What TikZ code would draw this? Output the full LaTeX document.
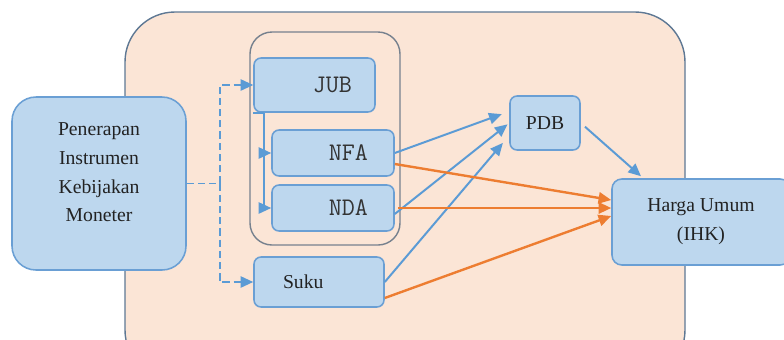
\documentclass[tikz,border=0pt]{standalone}
\usepackage{fontspec}
\setmainfont{Liberation Serif}
\usetikzlibrary{positioning,arrows.meta}
\definecolor{peach}{HTML}{FBE5D6}
\definecolor{peachline}{HTML}{5E7894}
\definecolor{grpline}{HTML}{76818E}
\definecolor{boxfill}{HTML}{BDD7EE}
\definecolor{boxline}{HTML}{6A9FD4}
\definecolor{bluearr}{HTML}{5B9BD5}
\definecolor{orangearr}{HTML}{ED7D31}
\definecolor{txt}{HTML}{222222}
\definecolor{monotxt}{HTML}{333333}

\begin{document}
\begin{tikzpicture}[font=\fontsize{14}{20.5}\selectfont,
    box/.style={draw=boxline,fill=boxfill,line width=1.1pt,rounded corners=5pt,inner sep=0pt,text=txt},
    monobox/.style={box,font=\ttfamily\fontsize{18}{20}\selectfont,text=monotxt,align=right},
    blueline/.style={draw=bluearr,line width=1.4pt},
    bluearrow/.style={blueline,-{Triangle[length=9pt,width=8pt]}},
    orangearrow/.style={draw=orangearr,line width=1.7pt,-{Triangle[length=9pt,width=8pt]}},
    dashline/.style={draw=bluearr,line width=1.4pt,dash pattern=on 5pt off 3pt},
    dasharrow/.style={dashline,-{Triangle[length=9pt,width=8pt]}}]
    \useasboundingbox (0,0) rectangle (19.6,-8.475);
    \clip (0,0) rectangle (19.6,-8.475);
    \draw[draw=peachline,fill=peach,line width=1pt,rounded corners=1.25cm]
        (3.125,-0.3) rectangle (17.125,-9.5);
    \node[draw=grpline,line width=1pt,rounded corners=0.55cm,
        minimum width=3.75cm,minimum height=5.325cm] (grp) at (8.125,-3.4625) {};
    \node[box,rounded corners=0.6cm,minimum width=4.35cm,minimum height=4.325cm,
        label={[align=center,yshift=0.28cm,text=txt]center:Penerapan\\Instrumen\\Kebijakan\\Moneter}]
        (pen) at (2.475,-4.5875) {};
    \node[monobox,minimum width=3.025cm,minimum height=1.35cm,text width=1.875cm] (jub) at (7.8625,-2.125) {JUB};
    \node[monobox,minimum width=3.05cm,minimum height=1.15cm,text width=1.75cm] (nfa) at (8.325,-3.825) {NFA};
    \node[monobox,minimum width=3.05cm,minimum height=1.15cm,text width=1.75cm] (nda) at (8.325,-5.2) {NDA};
    \node[box,minimum width=3.25cm,minimum height=1.25cm,text width=1.8cm,align=left] (suku) at (7.975,-7.05) {Suku};
    \node[box,minimum width=1.75cm,minimum height=1.35cm] (pdb) at (13.625,-3.075) {PDB};
    \node[box,rounded corners=7pt,minimum width=4.45cm,minimum height=2.15cm,align=center]
        (ihk) at (17.525,-5.55) {Harga Umum\\(IHK)};

    \coordinate[right=0.825cm of pen.east] (split);
    \draw[dashline] (pen.east) -- (split);
    \draw[dasharrow] (split) |- (jub.west);
    \draw[dasharrow] (split) |- (suku.west);

    \coordinate[right=0.275cm of jub.south west] (jubdrop);
    \draw[blueline] (jub.south west) -- (jubdrop);
    \draw[bluearrow] (jubdrop) |- (nfa.west);
    \draw[bluearrow] (jubdrop) |- (nda.west);

    \draw[bluearrow,shorten >=5.7pt] (nfa.east) -- ([yshift=0.29cm]pdb.west);
    \draw[bluearrow,shorten >=1.5pt] ([yshift=-0.15cm]nda.east) -- (pdb.west);
    \draw[bluearrow,shorten >=7pt] (suku.east) -- ([yshift=-0.31cm]pdb.west);
    \draw[bluearrow,shorten <=4pt] (pdb.east) -- ([xshift=-1.5cm,yshift=0.05cm]ihk.north);

    \draw[orangearrow] ([yshift=-0.275cm]nfa.east) -- ([yshift=0.55cm]ihk.west);
    \draw[orangearrow] ([xshift=0.075cm]nda.east) -- ([yshift=0.35cm]ihk.west);
    \draw[orangearrow] ([yshift=-0.4cm]suku.east) -- ([yshift=0.15cm]ihk.west);
\end{tikzpicture}
\end{document}
